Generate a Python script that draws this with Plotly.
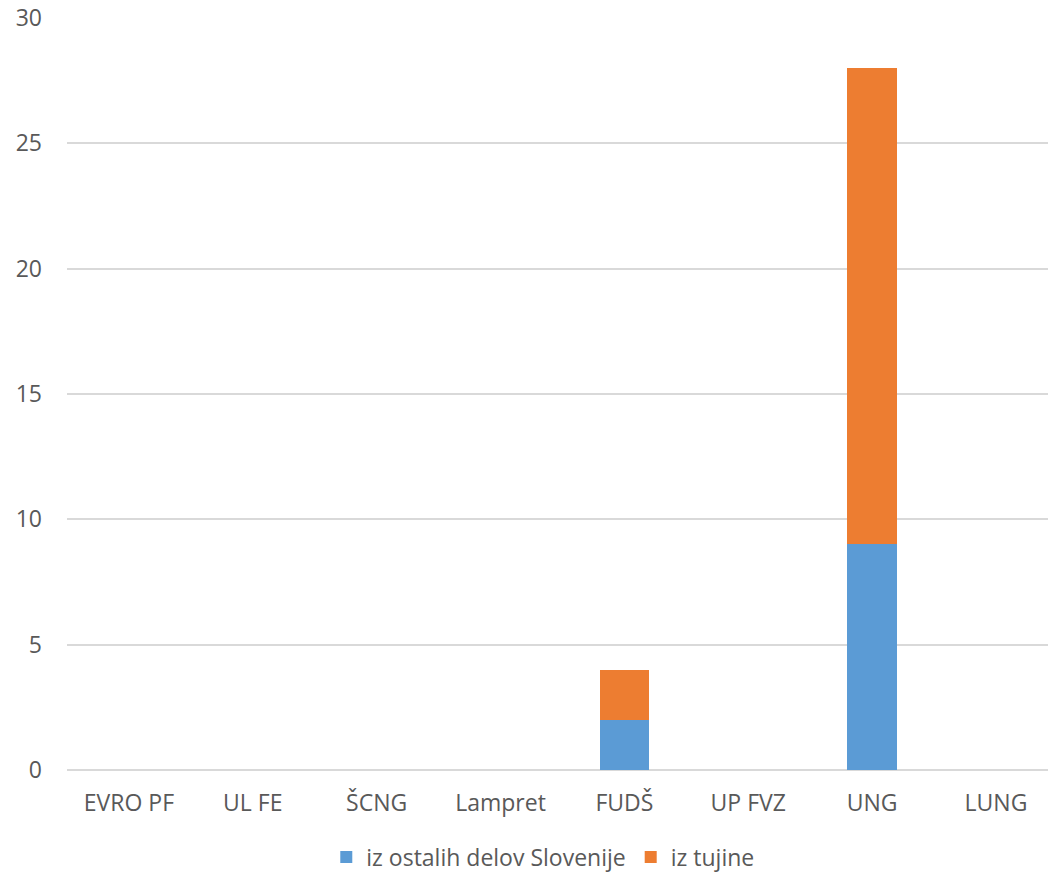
import plotly.graph_objects as go

categories = ["EVRO PF", "UL FE", "ŠCNG", "Lampret", "FUDŠ", "UP FVZ", "UNG", "LUNG"]
slovenija = [0, 0, 0, 0, 2, 0, 9, 0]
tujina = [0, 0, 0, 0, 2, 0, 19, 0]
y_ticks = [0, 5, 10, 15, 20, 25, 30]

font = dict(family="Open Sans", size=23, color="#595959")

fig = go.Figure()
fig.add_trace(go.Bar(x=categories, y=slovenija, name="iz ostalih delov Slovenije",
                     marker=dict(color="#5B9BD5", line=dict(width=0))))
fig.add_trace(go.Bar(x=categories, y=tujina, name="iz tujine",
                     marker=dict(color="#ED7D31", line=dict(width=0))))

fig.update_layout(
    barmode="stack",
    bargap=0.6,
    width=1048, height=880,
    margin=dict(l=67, r=0, t=18, b=110),
    paper_bgcolor="white", plot_bgcolor="white",
    font=font,
    showlegend=True,
    legend=dict(orientation="h", x=0.485, xanchor="center", y=-0.1157, yanchor="middle",
                font=font, traceorder="normal", itemwidth=30),
    xaxis=dict(range=[-0.5, 7.42], showgrid=False, showline=False, zeroline=False,
               ticks="", ticklabelstandoff=17, tickfont=font, automargin=False),
    yaxis=dict(range=[0, 30], tickvals=y_ticks, showgrid=True, gridcolor="#D9D9D9",
               gridwidth=1.5, zeroline=True, zerolinecolor="#D9D9D9", zerolinewidth=1.5,
               showline=False, ticks="", ticklabelstandoff=24, tickfont=font,
               ticklabeloverflow="allow", automargin=False),
)

fig.write_html("out.html", config={"displayModeBar": False},
               post_script="document.body.style.margin='0';")
